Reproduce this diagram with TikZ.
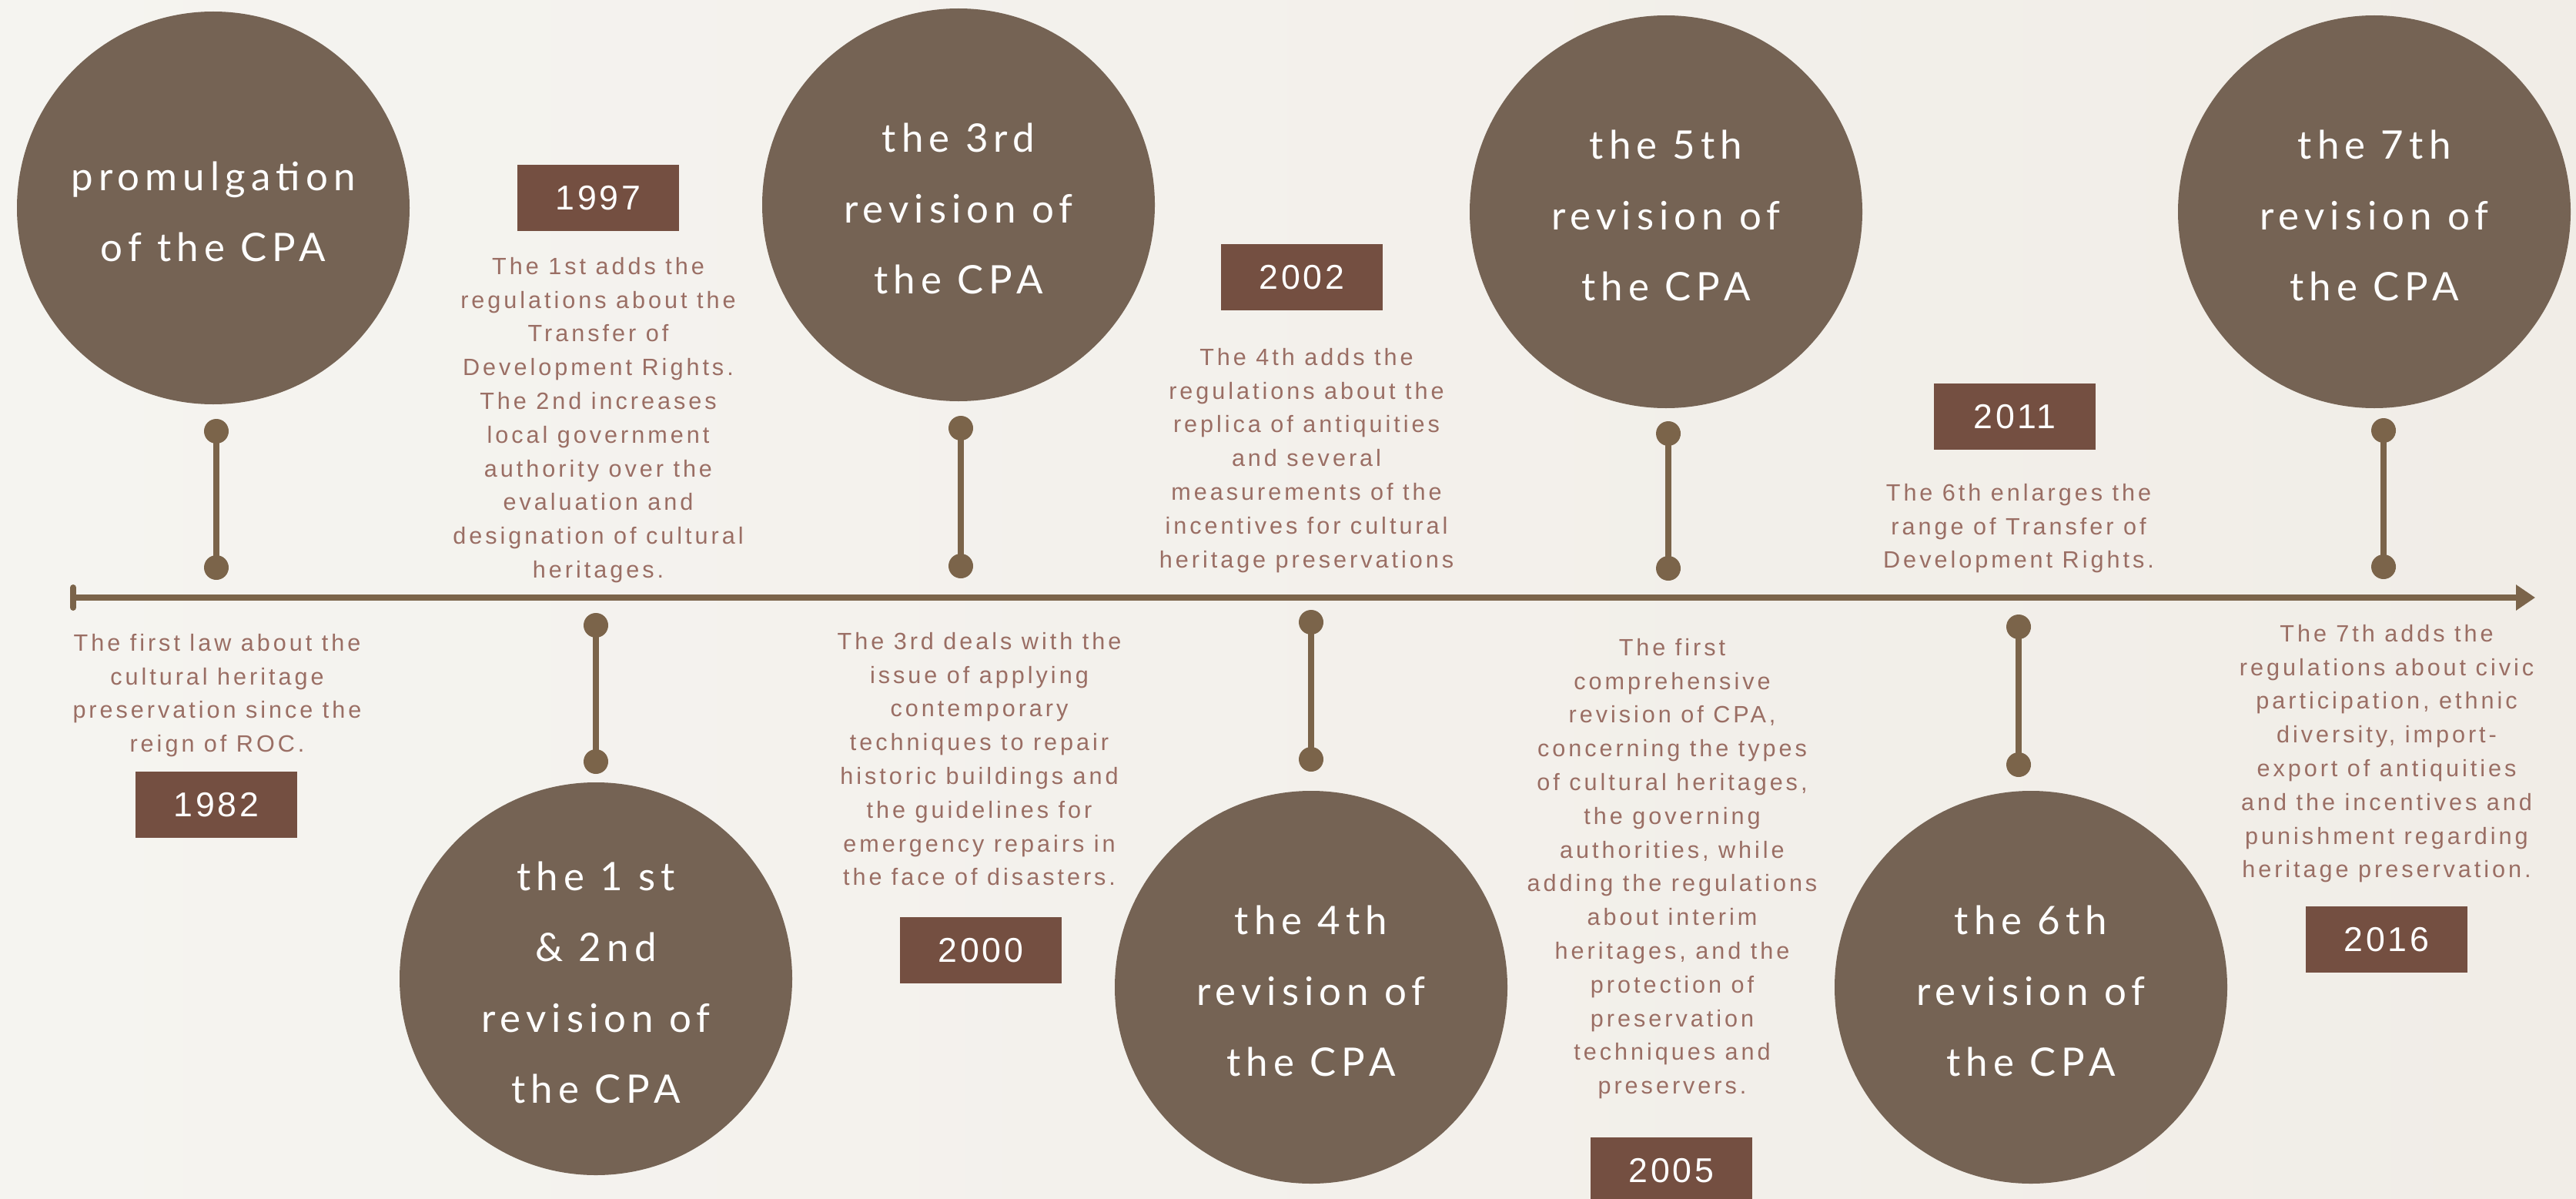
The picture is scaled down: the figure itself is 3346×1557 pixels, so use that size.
\documentclass[tikz,border=0pt]{standalone}
\usepackage{fontspec}
\usetikzlibrary{arrows.meta}
\newfontfamily\circfont[LetterSpace=14]{Lato}
\newfontfamily\descfont[LetterSpace=13]{Liberation Sans}
\newfontfamily\datefont[LetterSpace=8]{Liberation Sans}
\definecolor{bgL}{HTML}{F5F4F0}
\definecolor{bgR}{HTML}{F1EDE7}
\definecolor{circc}{HTML}{756354}
\definecolor{stemc}{HTML}{7B644A}
\definecolor{boxc}{HTML}{744F41}
\definecolor{descc}{HTML}{9A6E64}
\tikzset{
  bubble/.style={circle, fill=circc, minimum size=510pt, inner sep=0pt},
  bubbletext/.style={text=white, align=center, inner sep=0pt, yshift=-5pt,
    font=\circfont\fontsize{51}{92}\selectfont},
  datebox/.style={rectangle, fill=boxc, minimum width=210pt, minimum height=86pt,
    inner sep=0pt, text=white, font=\datefont\fontsize{44.7}{50}\selectfont},
  desc/.style={align=center, text=descc, inner sep=0pt, anchor=north,
    font=\descfont\fontsize{30.6}{43.8}\selectfont},
  dotc/.style={circle, fill=stemc, minimum size=32pt, inner sep=0pt},
  stemline/.style={draw=stemc, line width=8pt},
}
\begin{document}
\begin{tikzpicture}[x=1pt, y=-1pt]
\useasboundingbox (0,0) rectangle (3346,1557);
\shade[left color=bgL, right color=bgR] (0,0) rectangle (3346,1557);

% timeline
\coordinate (tlA) at (95,776);
\coordinate (tlB) at (3293,776);
\coordinate (tickA) at (95,763);
\coordinate (tickB) at (95,789);
\draw[stemline, -{Triangle[length=25pt,width=32pt]}] (tlA) -- (tlB);
\draw[stemline, line cap=round] (tickA) -- (tickB);

% circles
\node[bubble] (c1) at (277,270) {};
\node[bubble] (c2) at (774,1271) {};
\node[bubble] (c3) at (1245,266) {};
\node[bubble] (c4) at (1703,1282) {};
\node[bubble] (c5) at (2164,275) {};
\node[bubble] (c6) at (2638,1282) {};
\node[bubble] (c7) at (3084,275) {};
\node[bubbletext] (c1t) at (c1.center) {promulgation\\of the CPA};
\node[bubbletext] (c2t) at (c2.center) {the 1 st\\\& 2nd\\revision of\\the CPA};
\node[bubbletext] (c3t) at (c3.center) {the 3rd\\revision of\\the CPA};
\node[bubbletext] (c4t) at (c4.center) {the 4th\\revision of\\the CPA};
\node[bubbletext] (c5t) at (c5.center) {the 5th\\revision of\\the CPA};
\node[bubbletext] (c6t) at (c6.center) {the 6th\\revision of\\the CPA};
\node[bubbletext] (c7t) at (c7.center) {the 7th\\revision of\\the CPA};

% stems
\node[dotc] (s1a) at (281,560) {};  \node[dotc] (s1b) at (281,737) {};
\node[dotc] (s2a) at (774,812) {};  \node[dotc] (s2b) at (774,989) {};
\node[dotc] (s3a) at (1248,556) {}; \node[dotc] (s3b) at (1248,735) {};
\node[dotc] (s4a) at (1703,808) {}; \node[dotc] (s4b) at (1703,986) {};
\node[dotc] (s5a) at (2167,563) {}; \node[dotc] (s5b) at (2167,738) {};
\node[dotc] (s6a) at (2622,814) {}; \node[dotc] (s6b) at (2622,993) {};
\node[dotc] (s7a) at (3096,559) {}; \node[dotc] (s7b) at (3096,736) {};
\foreach \i in {1,...,7} { \draw[stemline] (s\i a.center) -- (s\i b.center); }

% date boxes
\node[datebox] (y1982) at (281,1045) {1982};
\node[datebox] (y1997) at (777,257) {1997};
\node[datebox] (y2000) at (1274,1234) {2000};
\node[datebox] (y2002) at (1691,360) {2002};
\node[datebox] (y2005) at (2171,1520) {2005};
\node[datebox] (y2011) at (2617,541) {2011};
\node[datebox] (y2016) at (3100,1220) {2016};

% descriptions
\node[desc] (d1982) at (282,823) {The first law about the\\cultural heritage\\preservation since the\\reign of ROC.};
\node[desc] (d1997) at (777,334) {The 1st adds the\\regulations about the\\Transfer of\\Development Rights.\\The 2nd increases\\local government\\authority over the\\evaluation and\\designation of cultural\\heritages.};
\node[desc] (d2000) at (1272,821) {The 3rd deals with the\\issue of applying\\contemporary\\techniques to repair\\historic buildings and\\the guidelines for\\emergency repairs in\\the face of disasters.};
\node[desc] (d2002) at (1697,452) {The 4th adds the\\regulations about the\\replica of antiquities\\and several\\measurements of the\\incentives for cultural\\heritage preservations};
\node[desc] (d2005) at (2172,829) {The first\\comprehensive\\revision of CPA,\\concerning the types\\of cultural heritages,\\the governing\\authorities, while\\adding the regulations\\about interim\\heritages, and the\\protection of\\preservation\\techniques and\\preservers.};
\node[desc] (d2011) at (2622,628) {The 6th enlarges the\\range of Transfer of\\Development Rights.};
\node[desc] (d2016) at (3100,811) {The 7th adds the\\regulations about civic\\participation, ethnic\\diversity, import-\\export of antiquities\\and the incentives and\\punishment regarding\\heritage preservation.};
\end{tikzpicture}
\end{document}
